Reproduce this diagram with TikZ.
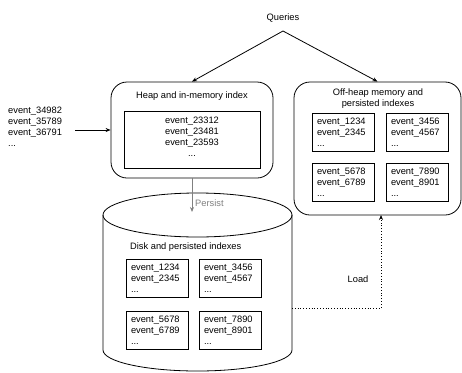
\documentclass[tikz,border=0pt]{standalone}
\usepackage{fontspec}
\setmainfont{Liberation Sans}
\usetikzlibrary{arrows.meta}
\begin{document}
\begin{tikzpicture}[x=1pt,y=-1pt,
  every node/.style={font=\fontsize{9.3}{11}\selectfont, inner sep=0pt},
  line/.style={line width=0.8pt},
  arr/.style={line, -{Stealth[length=5pt,width=4pt]}},
  bigbox/.style={draw, line, rounded corners=16pt},
  evbox/.style={draw, line, minimum width=62pt, minimum height=38pt, text width=52pt, align=left},
  txt/.style={align=center}]
\useasboundingbox (0,0) rectangle (462,372);
% Queries
\node[txt] (q) at (283,18) {Queries};
\coordinate (apex) at (283,31);
% Heap box
\node[bigbox, minimum width=162pt, minimum height=96pt] (heap) at (192,130) {};
\node[txt] (heapt) at (192,96) {Heap and in-memory index};
\node[draw, line, minimum width=136pt, minimum height=57pt] (heapin) at (192,139.5) {};
\node[txt] (heaptxt) at (192,137) {event\_23312\\event\_23481\\event\_23593\\...};
% Off-heap box
\node[bigbox, minimum width=167pt, minimum height=133pt] (off) at (377.5,148.5) {};
\node[txt] (offt) at (378,98.5) {Off-heap memory and\\persisted indexes};
\node[evbox] (o1) at (343,132) {event\_1234\\event\_2345\\...};
\node[evbox] (o2) at (417,132) {event\_3456\\event\_4567\\...};
\node[evbox] (o3) at (343,182) {event\_5678\\event\_6789\\...};
\node[evbox] (o4) at (417,182) {event\_7890\\event\_8901\\...};
% Input
\node[align=left, anchor=west] (inp) at (8,127) {event\_34982\\event\_35789\\event\_36791\\...};
\coordinate (instart) at (75,130);
% Cylinder
\draw[line] (197.5,215) ellipse[x radius=94.5, y radius=22];
\draw[line] (103,215) -- (103,350) arc[start angle=180, end angle=0, x radius=94.5, y radius=21] -- (292,215);
\node[anchor=west] (diskt) at (130,247) {Disk and persisted indexes};
\node[evbox] (d1) at (157,278.5) {event\_1234\\event\_2345\\...};
\node[evbox] (d2) at (230,278.5) {event\_3456\\event\_4567\\...};
\node[evbox] (d3) at (157,330.5) {event\_5678\\event\_6789\\...};
\node[evbox] (d4) at (230,330.5) {event\_7890\\event\_8901\\...};
\coordinate (cyltop) at (192,212);
\coordinate (cylright) at (292,308);
\coordinate (loadend) at (381,215);
% Connectors
\draw[arr] (apex) -- (heap.north);
\draw[arr] (apex) -- (off.north);
\draw[arr] (instart) -- (heap.west);
\draw[arr, draw=gray, -{Stealth[length=5pt,width=4pt,gray]}] (heap.south) -- (cyltop);
\node[anchor=west, text=gray] (persist) at (195,203) {Persist};
\draw[arr, dotted] (cylright) -| (loadend);
\node (load) at (358,279) {Load};
\end{tikzpicture}
\end{document}
